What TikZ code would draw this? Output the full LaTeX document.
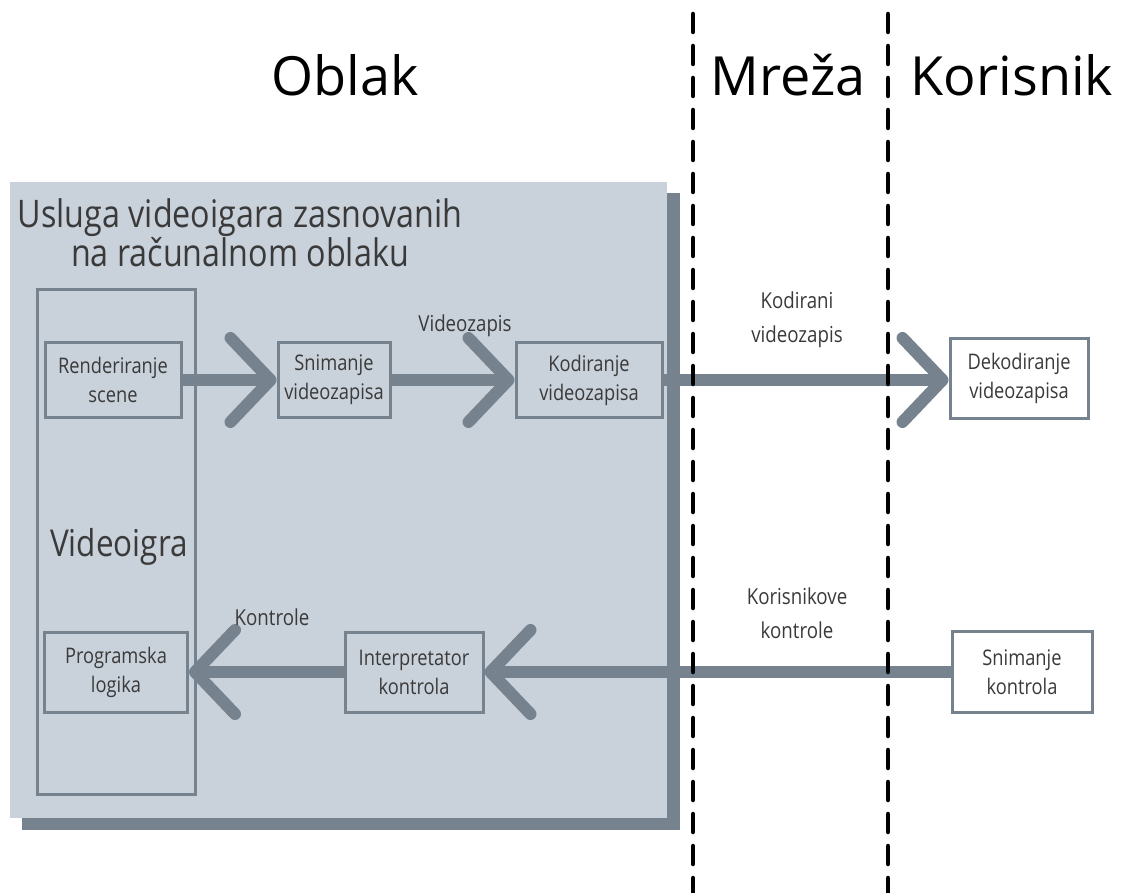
\documentclass[tikz,border=0pt]{standalone}
\usepackage{fontspec}
\setmainfont{Open Sans}
\newfontfamily\cond[FakeStretch=0.85]{Open Sans}
\usetikzlibrary{arrows.meta}
\definecolor{cloudfill}{HTML}{C9D1DB}
\definecolor{linegray}{HTML}{76838E}
\definecolor{txt}{HTML}{3A3A3A}
\begin{document}
\begin{tikzpicture}[x=1pt,y=-1pt,
  stepbox/.style={draw=linegray, line width=3pt, fill=cloudfill, align=center,
    inner sep=0pt, text=txt, font=\cond\fontsize{21.5}{29}\selectfont},
  userbox/.style={stepbox, fill=white},
  flow/.style={draw=linegray, line width=12pt,
    -{Straight Barb[length=40pt,width=84pt,round]}},
  lbl/.style={align=center, text=txt, font=\cond\fontsize{22}{34}\selectfont},
  title/.style={text=black, font=\fontsize{54}{60}\selectfont},
  divider/.style={draw=black, line width=4.5pt, line cap=round, dash pattern=on 18pt off 14pt}]
\useasboundingbox (0,0) rectangle (1123,893);
\fill[white] (0,0) rectangle (1123,893);
% cloud service panel with shadow
\fill[linegray] (22,193) rectangle (680,830);
\fill[cloudfill] (10,182) rectangle (667,818);
\node[lbl, font=\cond\fontsize{38}{39}\selectfont, anchor=center] (svc) at (240,233)
  {Usluga videoigara zasnovanih\\na računalnom oblaku};
% game box
\node[stepbox, minimum width=158pt, minimum height=505pt] (game) at (116,542) {};
\node[lbl, font=\cond\fontsize{37}{40}\selectfont] (gametxt) at (119,547) {Videoigra};
% step boxes
\node[stepbox, minimum width=136pt, minimum height=75pt] (rs) at (113,380) {Renderiranje\\scene};
\node[stepbox, minimum width=112pt, minimum height=75pt] (sv) at (334,380) {Snimanje\\videozapisa};
\node[stepbox, minimum width=146pt, minimum height=75pt] (kv) at (589,380) {Kodiranje\\videozapisa};
\node[userbox, minimum width=138pt, minimum height=80pt] (dv) at (1019,378) {Dekodiranje\\videozapisa};
\node[stepbox, minimum width=143pt, minimum height=80pt] (pl) at (116,672) {Programska\\logika};
\node[stepbox, minimum width=138pt, minimum height=80pt] (ik) at (414,672) {Interpretator\\kontrola};
\node[userbox, minimum width=140pt, minimum height=81pt] (sk) at (1022,672) {Snimanje\\kontrola};
% connectors
\draw[flow] (rs.east) -- (sv.west);
\draw[flow] (sv.east) -- (kv.west);
\draw[flow] (kv.east) -- (kv.east -| dv.west);
\draw[flow] (sk.west) -- (ik.east);
\draw[flow] (ik.west) -- (pl.east);
% labels
\node[lbl] (l1) at (465,326) {Videozapis};
\node[lbl] (l2) at (797,320) {Kodirani\\videozapis};
\node[lbl] (l3) at (797,613) {Korisnikove\\kontrole};
\node[lbl] (l4) at (272,617) {Kontrole};
% dividers
\coordinate (d1a) at (693,14);
\coordinate (d1b) at (693,893);
\coordinate (d2a) at (888,14);
\coordinate (d2b) at (888,893);
\draw[divider] (d1a) -- (d1b);
\draw[divider] (d2a) -- (d2b);
% titles
\node[title] (t1) at (345,75) {Oblak};
\node[title] (t2) at (788,75) {Mreža};
\node[title] (t3) at (1012,75) {Korisnik};
\end{tikzpicture}
\end{document}
